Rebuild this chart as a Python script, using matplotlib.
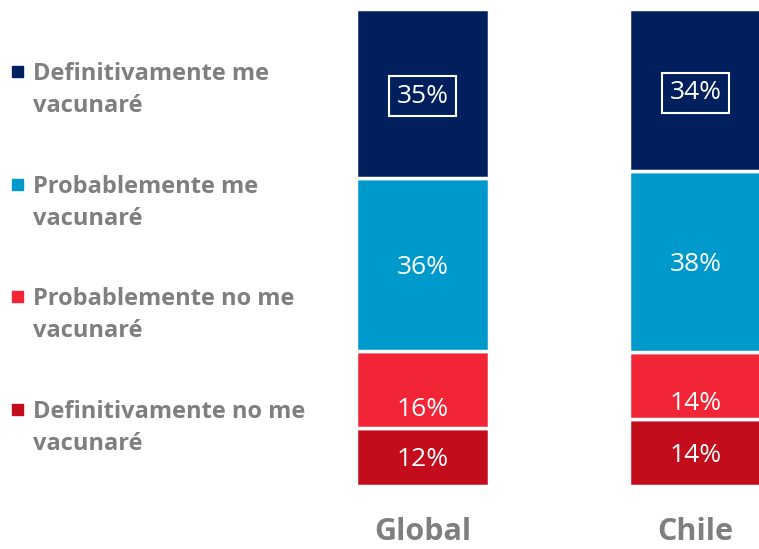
import numpy as np
import matplotlib.pyplot as plt

# data
categories = ["Global", "Chile"]
series = ["Definitivamente no me\nvacunaré", "Probablemente no me\nvacunaré",
          "Probablemente me\nvacunaré", "Definitivamente me\nvacunaré"]
values = {
    "Global": [12, 16, 36, 35],
    "Chile": [14, 14, 38, 34],
}
colors = ["#C30C1C", "#F22536", "#0099CC", "#001F5C"]
gray = "#7F7F7F"

W, H = 759, 549
fig = plt.figure(figsize=(W / 100, H / 100), dpi=100)

# axes placed so bars sit where they are in the original
ax_left, ax_bottom, ax_top = 340, 486, 9
ax = fig.add_axes([ax_left / W, 1 - ax_bottom / H, 1 - ax_left / W, (ax_bottom - ax_top) / H])
spacing = 273.0
bar_w = 133 / spacing
ax.set_xlim(-(422.5 - ax_left) / spacing, (W - 422.5) / spacing)
ax.set_ylim(0, 100)

x = np.arange(len(categories))
data = np.array([values[c] for c in categories], dtype=float)
data_n = data / data.sum(axis=1, keepdims=True) * 100
bottoms = np.zeros(len(categories))
for j, col in enumerate(colors):
    h = data_n[:, j]
    ax.bar(x, h, bar_w, bottom=bottoms, color=col, edgecolor="white", linewidth=2.5)
    for i in range(len(categories)):
        yc = bottoms[i] + h[i] / 2
        if j == 1:
            yc -= h[i] * 0.22
        kw = dict(ha="center", va="center", color="white", fontsize=19, family="Open Sans")
        if j == len(colors) - 1:
            kw["bbox"] = dict(boxstyle="square,pad=0.28", fc="none", ec="white", lw=1.5)
        ax.annotate(f"{int(data[i, j])}%", (x[i], yc), xytext=(0, -2),
                    textcoords="offset points", **kw)
    bottoms += h

ax.set_xticks(x)
ax.set_xticklabels(categories, fontsize=22, fontweight="bold", color=gray, family="Open Sans")
ax.tick_params(axis="x", length=0, pad=22)
ax.set_yticks([])
for s in ax.spines.values():
    s.set_visible(False)

# legend on the left, top series first
legend_y = [72, 185, 297, 410]
for k, j in enumerate(range(len(series) - 1, -1, -1)):
    y0 = legend_y[k]
    fig.patches.append(plt.Rectangle((12 / W, 1 - (y0 + 5) / H), 11 / W, 11 / H,
                                     transform=fig.transFigure, color=colors[j]))
    fig.text(33 / W, 1 - (y0 + 40) / H, series[j], ha="left", va="baseline", fontsize=17,
             fontweight="bold", color=gray, family="Open Sans", linespacing=1.42)

fig.savefig("out.png", dpi=100)
